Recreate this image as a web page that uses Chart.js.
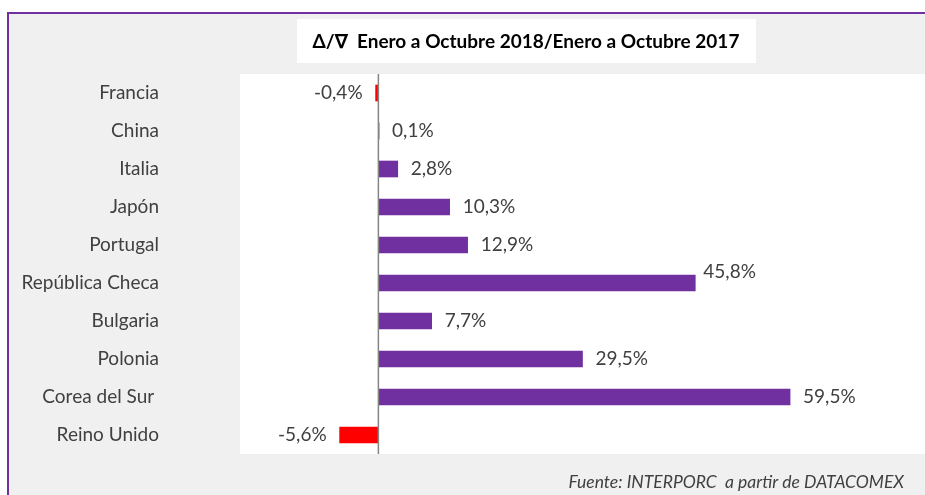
<!DOCTYPE html>
<html>
<head>
<meta charset="utf-8">
<script src="https://cdn.jsdelivr.net/npm/chart.js@4/dist/chart.umd.min.js"></script>
<style>
  html, body { margin: 0; padding: 0; background: #ffffff; }
  #wrap { width: 925px; height: 495px; }
</style>
</head>
<body>
<div id="wrap"><canvas id="variationChart" width="925" height="495"></canvas></div>
<script>
const countries = ["Francia", "China", "Italia", "Japón", "Portugal", "República Checa",
                   "Bulgaria", "Polonia", "Corea del Sur ", "Reino Unido"];
const variation = [-0.4, 0.1, 2.8, 10.3, 12.9, 45.8, 7.7, 29.5, 59.5, -5.6];

const titleText = "\u0394/\u2207  Enero a Octubre 2018/Enero a Octubre 2017";
const sourceText = "Fuente: INTERPORC  a partir de DATACOMEX";

const purple = '#7030a0';
const red = '#ff0000';
const textGrey = '#404040';
const baseFont = 'Lato, Calibri, "Noto Sans", sans-serif';

// percentage with a decimal comma, as in the spanish report
function pct(v) {
    return v.toFixed(1).replace('.', ',') + '%';
}

// background panel, frame, title box and source line
const framePlugin = {
    id: 'frame',
    beforeDraw(chart) {
        const ctx = chart.ctx;
        const area = chart.chartArea;
        ctx.save();
        ctx.fillStyle = '#ffffff';
        ctx.fillRect(0, 0, chart.width, chart.height);
        ctx.fillStyle = '#f0f0f0';
        ctx.fillRect(7, 12, chart.width - 7, chart.height - 12);
        ctx.fillStyle = purple;
        ctx.fillRect(7, 12, chart.width - 7, 2);
        ctx.fillRect(7, 12, 2, chart.height - 12);

        // white plot area
        ctx.fillStyle = '#ffffff';
        ctx.fillRect(area.left, area.top, area.right - area.left, area.bottom - area.top);

        // title box
        ctx.fillRect(297, 19, 459, 44);
        ctx.fillStyle = '#000000';
        ctx.font = 'bold 19px ' + baseFont;
        ctx.textAlign = 'center';
        ctx.textBaseline = 'middle';
        ctx.fillText(titleText, 526, 42);

        // source
        ctx.fillStyle = textGrey;
        ctx.font = 'italic 17.5px ' + baseFont;
        ctx.textAlign = 'right';
        ctx.fillText(sourceText, 904, 482);
        ctx.restore();
    }
};

// the República Checa label was dragged up a little in the original sheet
const labelNudge = { 5: { dx: -5, dy: -11 } };

// zero line and value labels next to each bar
const valueLabels = {
    id: 'valueLabels',
    afterDatasetsDraw(chart) {
        const ctx = chart.ctx;
        const area = chart.chartArea;
        const zero = chart.scales.x.getPixelForValue(0);
        ctx.save();
        ctx.strokeStyle = '#858585';
        ctx.lineWidth = 1.5;
        ctx.beginPath();
        ctx.moveTo(zero, area.top);
        ctx.lineTo(zero, area.bottom);
        ctx.stroke();

        ctx.fillStyle = textGrey;
        ctx.font = '19px ' + baseFont;
        ctx.textBaseline = 'middle';
        chart.getDatasetMeta(0).data.forEach((bar, i) => {
            const v = variation[i];
            const n = labelNudge[i] || { dx: 0, dy: 0 };
            if (v < 0) {
                ctx.textAlign = 'right';
                ctx.fillText(pct(v), bar.x - 13 + n.dx, bar.y + n.dy);
            } else {
                ctx.textAlign = 'left';
                ctx.fillText(pct(v), bar.x + 13 + n.dx, bar.y + n.dy);
            }
        });
        ctx.restore();
    }
};

const ctx = document.getElementById('variationChart').getContext('2d');
const variationChart = new Chart(ctx, {
    type: 'bar',
    data: {
        labels: countries,
        datasets: [
            {
                label: 'Variación',
                data: variation,
                backgroundColor: variation.map(v => v < 0 ? red : purple),
                borderWidth: 0,
                barThickness: 16
            }
        ]
    },
    options: {
        indexAxis: 'y',
        responsive: false,
        animation: false,
        events: [],
        layout: {
            padding: { left: 0, right: 0, top: 74, bottom: 41 }
        },
        plugins: {
            legend: { display: false },
            title: { display: false },
            tooltip: { enabled: false }
        },
        scales: {
            x: {
                display: false,
                min: -20,
                max: 79
            },
            y: {
                grid: { display: false, drawTicks: false },
                border: { display: false },
                ticks: {
                    color: textGrey,
                    padding: 81,
                    font: { family: baseFont, size: 19 }
                },
                afterFit(scale) {
                    // fixed label column; the big tick padding must not eat vertical space
                    scale.width = 240;
                    scale.paddingTop = 0;
                    scale.paddingBottom = 0;
                }
            }
        }
    },
    plugins: [framePlugin, valueLabels]
});
</script>
</body>
</html>
